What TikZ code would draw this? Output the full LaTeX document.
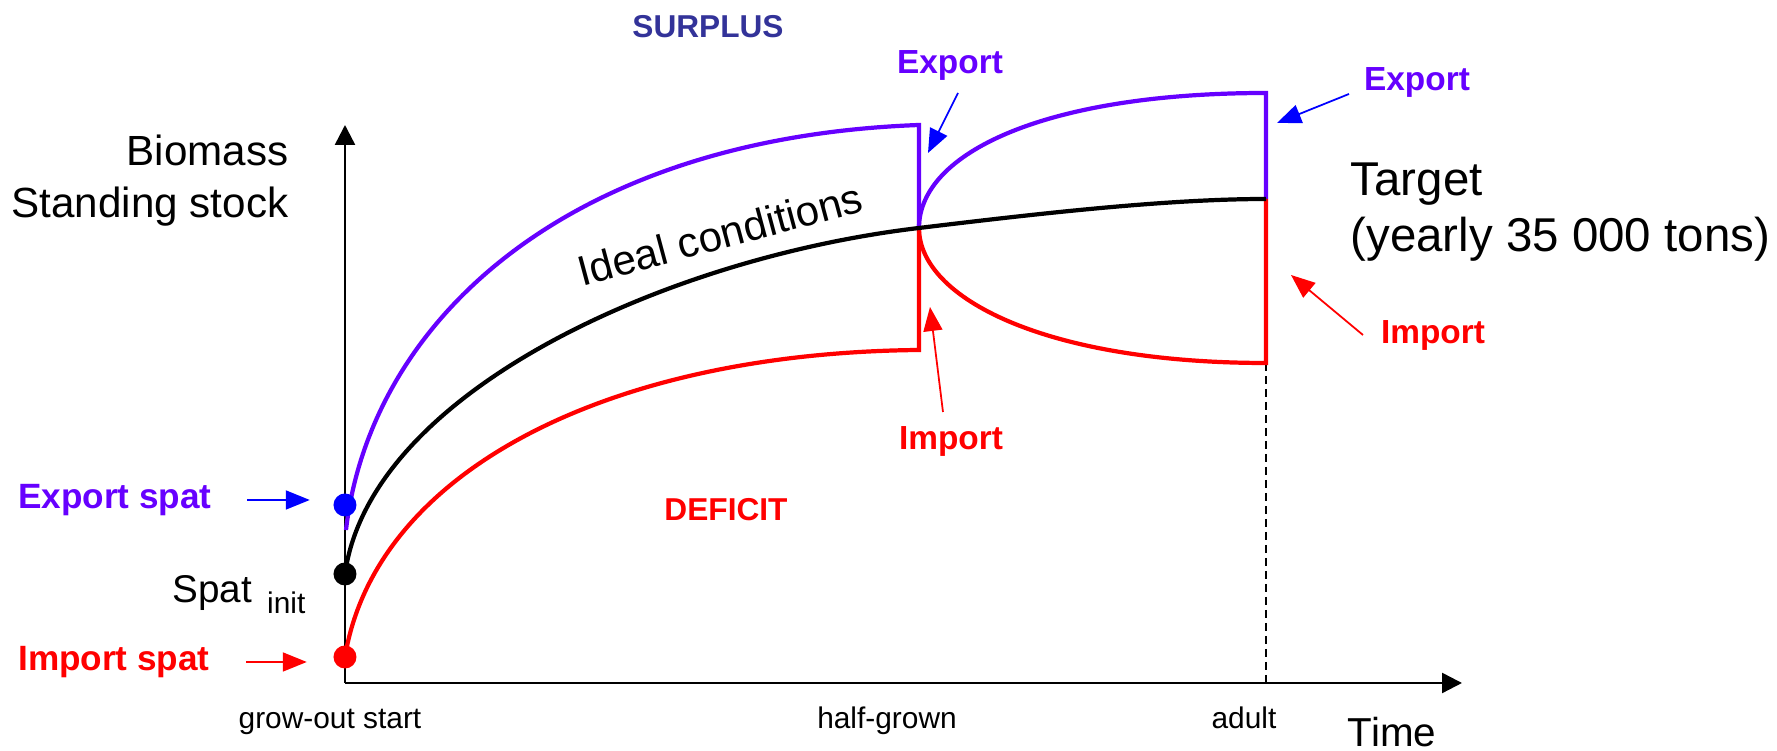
\documentclass[tikz,border=0pt]{standalone}
\usepackage{fontspec}
\setmainfont{Liberation Sans}
\usetikzlibrary{arrows.meta}
\definecolor{exportviolet}{RGB}{102,0,255}
\definecolor{surplusnavy}{RGB}{51,51,153}
\begin{document}
\begin{tikzpicture}[
    big/.style={font=\fontsize{12}{14.8}\selectfont},
    small/.style={font=\fontsize{8.5}{10}\selectfont},
    tag/.style={font=\bfseries\fontsize{9.5}{11}\selectfont, inner sep=0},
    curve/.style={line width=1.2pt},
    pointer/.style={line width=0.5pt, -{Triangle[length=0.24cm,width=0.19cm]}},
    axis/.style={line width=0.7pt, -{Triangle[length=0.2cm,width=0.2cm]}},
    spot/.style={circle, inner sep=0, minimum size=0.23cm}
]
    \useasboundingbox (-3.45,-0.68) rectangle (14.32,6.83);
    \coordinate (cross) at (5.74,4.55);
    \coordinate (target) at (9.21,4.84);
    \draw[axis] (0,0) -- (0,5.58);
    \draw[axis] (0,0) -- (11.17,0);
    \draw[dashed, line width=0.5pt, dash pattern=on 0.08cm off 0.05cm] (9.21,3.20) -- (9.21,0);
    \draw[curve, exportviolet] (0.01,1.53) .. controls (0.25,3.6) and (2.2,5.45) .. (5.74,5.58) -- (cross);
    \draw[curve, exportviolet] (cross) .. controls (5.74,5.3) and (7.0,5.90) .. (9.21,5.90) -- (target);
    \draw[curve, red] (0,0.26) .. controls (0.3,2.1) and (2.6,3.3) .. (5.74,3.33) -- (cross);
    \draw[curve, red] (cross) .. controls (5.74,3.85) and (7.0,3.20) .. (9.21,3.20) -- (target);
    \draw[curve] (0,1.09) .. controls (0.25,2.9) and (3.2,4.25) .. (cross) .. controls (6.9,4.69) and (8.2,4.84) .. (target);
    \node[spot, fill=blue] (expspot) at (0,1.78) {};
    \node[spot, fill=black] (initspot) at (0,1.09) {};
    \node[spot, fill=red] (impspot) at (0,0.26) {};
    \node[big, anchor=east, align=right, inner sep=0] (ylab) at (-0.56,5.02) {Biomass\\Standing stock};
    \node[big, rotate=15] (ideal) at (3.75,4.49) {Ideal conditions};
    \node[font=\fontsize{13.5}{16}\selectfont, anchor=west, align=left, inner sep=0] (tgt) at (10.05,4.71) {Target\\(yearly 35 000 tons)};
    \node[tag, text=surplusnavy, font=\bfseries\fontsize{9}{11}\selectfont] (surplus) at (3.63,6.56) {SURPLUS};
    \node[tag, text=red, font=\bfseries\fontsize{9}{11}\selectfont] (deficit) at (3.81,1.73) {DEFICIT};
    \node[tag, text=exportviolet] (exp1) at (6.05,6.18) {Export};
    \node[tag, text=exportviolet] (exp2) at (10.72,6.01) {Export};
    \node[tag, text=red] (imp1) at (6.06,2.42) {Import};
    \node[tag, text=red] (imp2) at (10.88,3.48) {Import};
    \node[tag, text=exportviolet, font=\bfseries\fontsize{10}{12}\selectfont] (expspat) at (-2.30,1.83) {Export spat};
    \node[tag, text=red, font=\bfseries\fontsize{10}{12}\selectfont] (impspat) at (-2.31,0.21) {Import spat};
    \node[anchor=base west, inner sep=0, font=\fontsize{11}{13}\selectfont] (spat) at (-1.73,0.80) {Spat\hspace{0.15cm}\raisebox{-0.11cm}{\fontsize{8.5}{10}\selectfont init}};
    \draw[pointer, blue] (exp1) ++(0.08,-0.28) -- (5.83,5.30);
    \draw[pointer, blue] (exp2) ++(-0.68,-0.12) -- (9.32,5.60);
    \draw[pointer, red] (imp1) ++(-0.08,0.29) -- (5.85,3.76);
    \draw[pointer, red] (imp2) ++(-0.70,0) -- (9.46,4.08);
    \draw[pointer, blue, shorten <=0.35cm, shorten >=0.23cm] (expspat.east) -- (expspat.east -| expspot.west);
    \draw[pointer, red, shorten <=0.36cm, shorten >=0.26cm] (impspat.east) -- (impspat.east -| impspot.west);
    \node[small, anchor=base] (start) at (-0.15,-0.46) {grow-out start};
    \node[small, anchor=base] (half) at (5.42,-0.46) {half-grown};
    \node[small, anchor=base] (adult) at (8.99,-0.46) {adult};
    \node[anchor=base, font=\fontsize{11.5}{13}\selectfont] (time) at (10.47,-0.64) {Time};
\end{tikzpicture}
\end{document}
